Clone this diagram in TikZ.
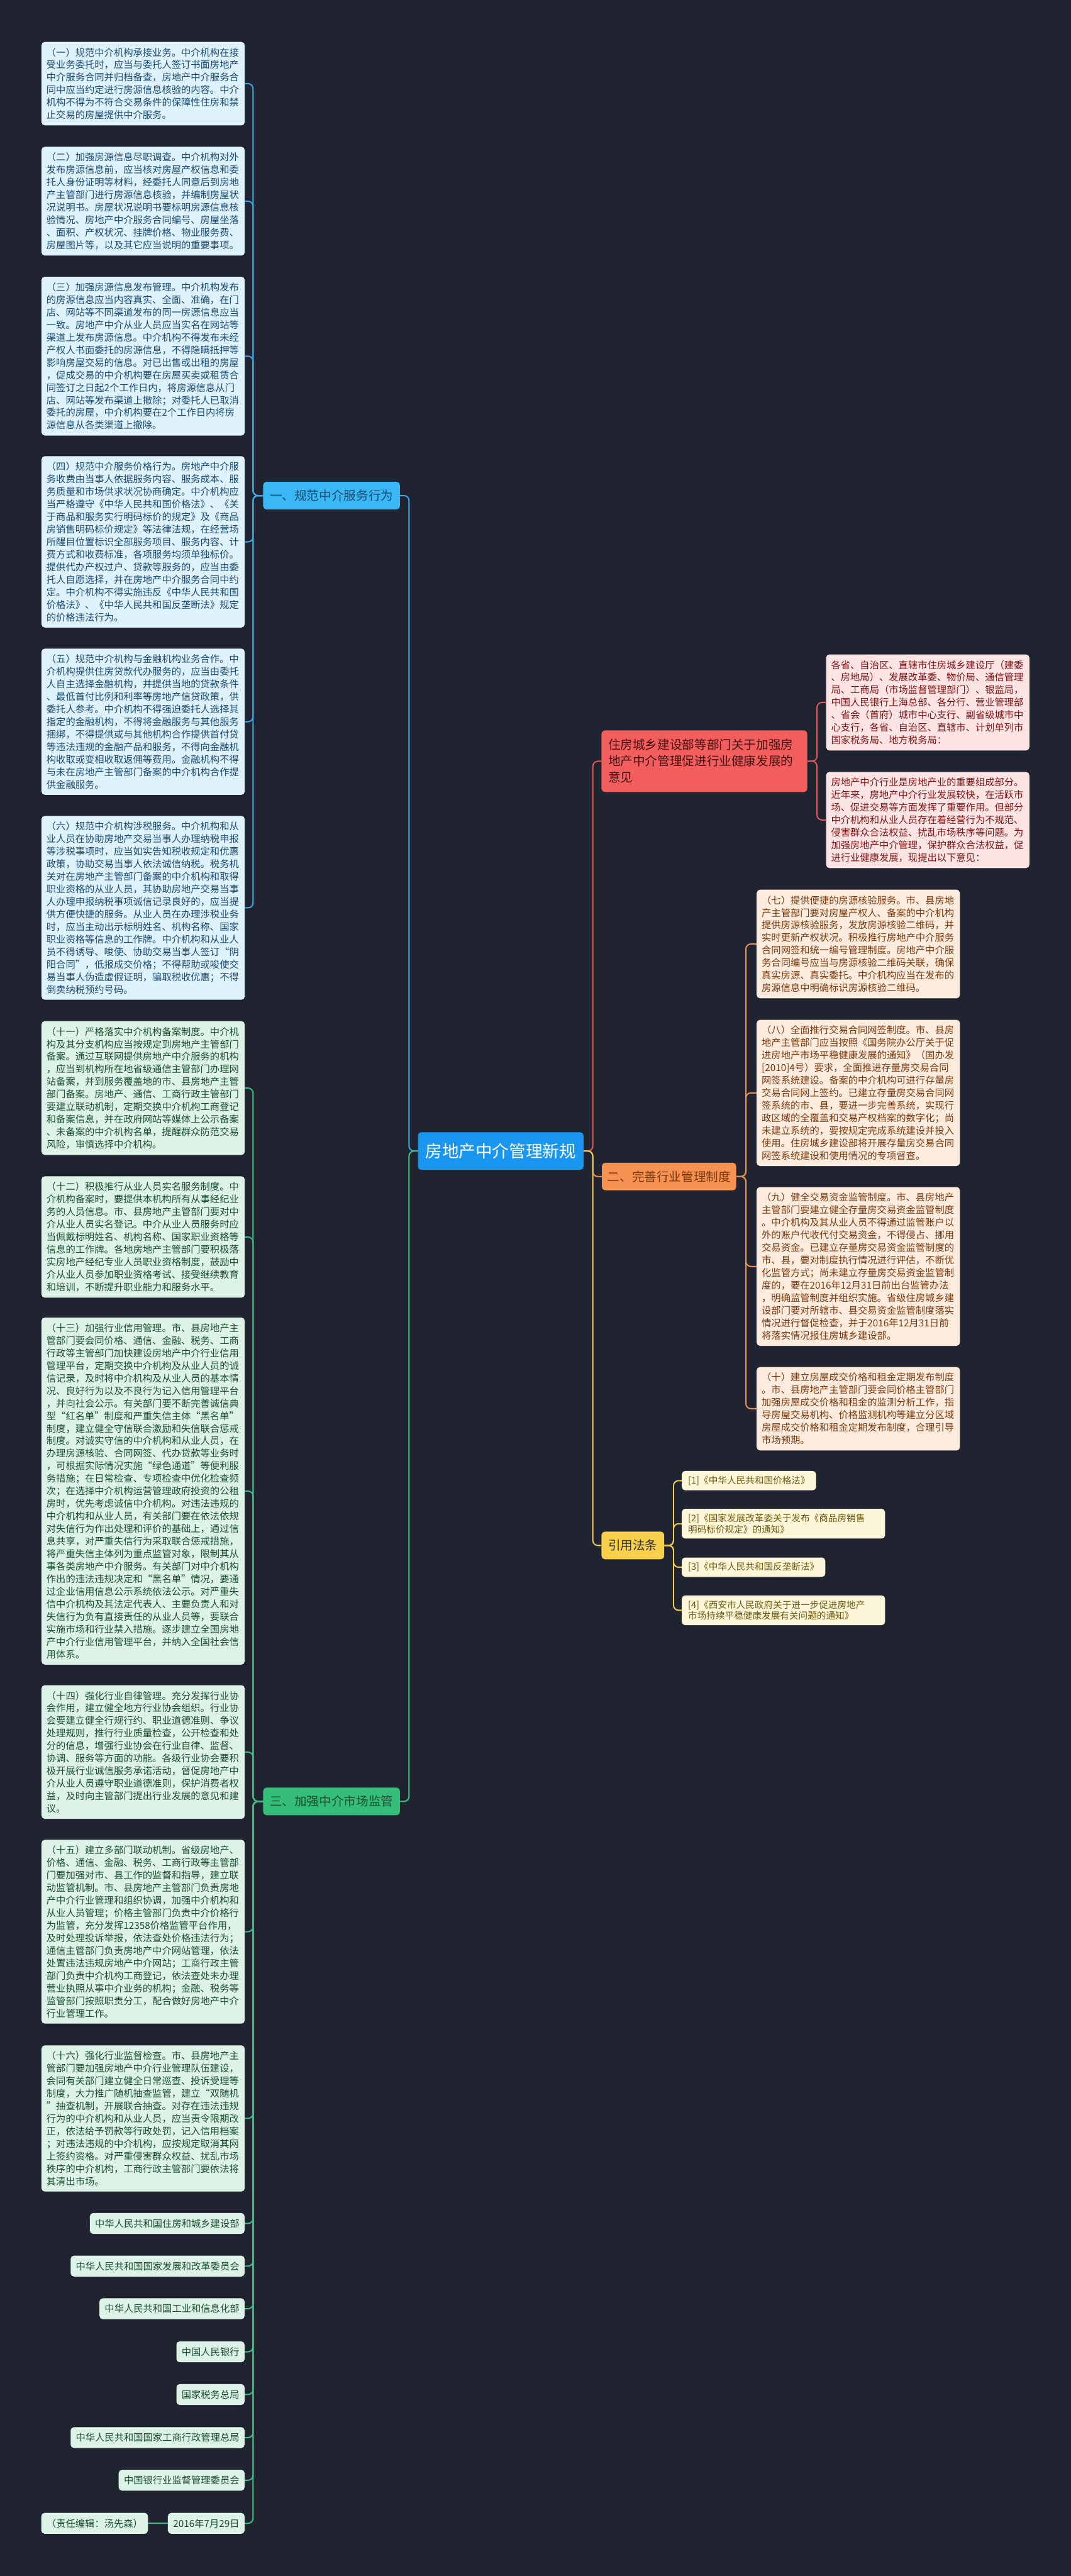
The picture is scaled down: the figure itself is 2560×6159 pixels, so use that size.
\documentclass[tikz,border=0pt]{standalone}
\usepackage{fontspec}
\setmainfont{Noto Sans CJK SC}
\usetikzlibrary{positioning}

\definecolor{bgcol}{RGB}{32,36,48}
\definecolor{bluefill}{RGB}{221,242,251}
\definecolor{bluetext}{RGB}{28,74,112}
\definecolor{bluelinkc}{RGB}{56,170,235}
\definecolor{bluehead}{RGB}{58,184,246}
\definecolor{greenfill}{RGB}{221,243,231}
\definecolor{greentext}{RGB}{28,78,48}
\definecolor{greenlinkc}{RGB}{60,192,128}
\definecolor{greenhead}{RGB}{52,190,122}
\definecolor{mainfill}{RGB}{24,150,240}
\definecolor{redhead}{RGB}{242,94,94}
\definecolor{redtext}{RGB}{70,16,16}
\definecolor{pinkfill}{RGB}{253,228,228}
\definecolor{pinktext}{RGB}{128,20,20}
\definecolor{redlinkc}{RGB}{228,88,88}
\definecolor{orangehead}{RGB}{247,146,82}
\definecolor{orangefill}{RGB}{253,236,222}
\definecolor{orangetext}{RGB}{122,58,14}
\definecolor{orangelinkc}{RGB}{234,146,82}
\definecolor{yellowhead}{RGB}{248,208,76}
\definecolor{yellowfill}{RGB}{253,246,216}
\definecolor{yellowtext}{RGB}{108,88,14}
\definecolor{yellowlinkc}{RGB}{240,204,82}

\begin{document}
\begin{tikzpicture}[x=1pt, y=-1pt,
	para/.style={rectangle, rounded corners=8pt, text width=462pt, align=left,
		inner xsep=12pt, inner ysep=14pt, font=\fontsize{23}{30}\selectfont, anchor=west},
	bluebox/.style={para, fill=bluefill, text=bluetext},
	greenbox/.style={para, fill=greenfill, text=greentext},
	pinkbox/.style={para, fill=pinkfill, text=pinktext},
	orangebox/.style={para, fill=orangefill, text=orangetext},
	orgbox/.style={rectangle, rounded corners=8pt, fill=greenfill, text=greentext, anchor=east,
		inner xsep=12.5pt, inner ysep=0pt, minimum height=50pt, font=\fontsize{23}{30}\selectfont},
	citebox/.style={rectangle, rounded corners=8pt, fill=yellowfill, text=yellowtext, anchor=west,
		align=left, inner xsep=15pt, inner ysep=12pt, font=\fontsize{22}{26.5}\selectfont},
	head/.style={rectangle, rounded corners=8pt, anchor=west, inner xsep=16pt, inner ysep=0pt,
		minimum height=66pt, font=\fontsize{29.5}{39}\selectfont},
	mainnode/.style={rectangle, rounded corners=8pt, fill=mainfill, text=white, anchor=west,
		inner xsep=18pt, minimum height=90pt, font=\fontsize{40}{48}\selectfont},
	link/.style={line width=3pt, rounded corners=12pt},
	bluelink/.style={link, draw=bluelinkc},
	greenlink/.style={link, draw=greenlinkc},
	redlink/.style={link, draw=redlinkc},
	orangelink/.style={link, draw=orangelinkc},
	yellowlink/.style={link, draw=yellowlinkc}
	]
	\useasboundingbox (0,0) rectangle (2560,6159);
	\fill[bgcol] (0,0) rectangle (2560,6159);
	
	% --- centre ---
	\node[mainnode] (main) at (999,2752) {房地产中介管理新规};
	
	% --- Left: 一、规范中介服务行为 ---
	\node[head, fill=bluehead, text=bluetext] (sec1) at (629,1185) {一、规范中介服务行为};
	\node[bluebox] (b1) at (99,200) {（一）规范中介机构承接业务。中介机构在接\\受业务委托时，应当与委托人签订书面房地产\\中介服务合同并归档备查，房地产中介服务合\\同中应当约定进行房源信息核验的内容。中介\\机构不得为不符合交易条件的保障性住房和禁\\止交易的房屋提供中介服务。};
	\node[bluebox] (b2) at (99,481) {（二）加强房源信息尽职调查。中介机构对外\\发布房源信息前，应当核对房屋产权信息和委\\托人身份证明等材料，经委托人同意后到房地\\产主管部门进行房源信息核验，并编制房屋状\\况说明书。房屋状况说明书要标明房源信息核\\验情况、房地产中介服务合同编号、房屋坐落\\、面积、产权状况、挂牌价格、物业服务费、\\房屋图片等，以及其它应当说明的重要事项。};
	\node[bluebox] (b3) at (99,851.5) {（三）加强房源信息发布管理。中介机构发布\\的房源信息应当内容真实、全面、准确，在门\\店、网站等不同渠道发布的同一房源信息应当\\一致。房地产中介从业人员应当实名在网站等\\渠道上发布房源信息。中介机构不得发布未经\\产权人书面委托的房源信息，不得隐瞒抵押等\\影响房屋交易的信息。对已出售或出租的房屋\\，促成交易的中介机构要在房屋买卖或租赁合\\同签订之日起2个工作日内，将房源信息从门\\店、网站等发布渠道上撤除；对委托人已取消\\委托的房屋，中介机构要在2个工作日内将房\\源信息从各类渠道上撤除。};
	\node[bluebox] (b4) at (99,1295.5) {（四）规范中介服务价格行为。房地产中介服\\务收费由当事人依据服务内容、服务成本、服\\务质量和市场供求状况协商确定。中介机构应\\当严格遵守《中华人民共和国价格法》、《关\\于商品和服务实行明码标价的规定》及《商品\\房销售明码标价规定》等法律法规，在经营场\\所醒目位置标识全部服务项目、服务内容、计\\费方式和收费标准，各项服务均须单独标价。\\提供代办产权过户、贷款等服务的，应当由委\\托人自愿选择，并在房地产中介服务合同中约\\定。中介机构不得实施违反《中华人民共和国\\价格法》、《中华人民共和国反垄断法》规定\\的价格违法行为。};
	\node[bluebox] (b5) at (99,1725.5) {（五）规范中介机构与金融机构业务合作。中\\介机构提供住房贷款代办服务的，应当由委托\\人自主选择金融机构，并提供当地的贷款条件\\、最低首付比例和利率等房地产信贷政策，供\\委托人参考。中介机构不得强迫委托人选择其\\指定的金融机构，不得将金融服务与其他服务\\捆绑，不得提供或与其他机构合作提供首付贷\\等违法违规的金融产品和服务，不得向金融机\\构收取或变相收取返佣等费用。金融机构不得\\与未在房地产主管部门备案的中介机构合作提\\供金融服务。};
	\node[bluebox] (b6) at (99,2170.5) {（六）规范中介机构涉税服务。中介机构和从\\业人员在协助房地产交易当事人办理纳税申报\\等涉税事项时，应当如实告知税收规定和优惠\\政策，协助交易当事人依法诚信纳税。税务机\\关对在房地产主管部门备案的中介机构和取得\\职业资格的从业人员，其协助房地产交易当事\\人办理申报纳税事项诚信记录良好的，应当提\\供方便快捷的服务。从业人员在办理涉税业务\\时，应当主动出示标明姓名、机构名称、国家\\职业资格等信息的工作牌。中介机构和从业人\\员不得诱导、唆使、协助交易当事人签订“阴\\阳合同”，低报成交价格；不得帮助或唆使交\\易当事人伪造虚假证明，骗取税收优惠；不得\\倒卖纳税预约号码。};
	\draw[bluelink] (main.west) -- ++(-21,0) |- (sec1.east);
	\foreach \k in {b1,b2,b3,b4,b5,b6}
		\draw[bluelink] (sec1.west) -- ++(-24,0) |- (\k.east);
	
	% --- Left: 三、加强中介市场监管 ---
	\node[head, fill=greenhead, text=greentext] (sec3) at (629,4307) {三、加强中介市场监管};
	\node[greenbox] (g11) at (99,2601.5) {（十一）严格落实中介机构备案制度。中介机\\构及其分支机构应当按规定到房地产主管部门\\备案。通过互联网提供房地产中介服务的机构\\，应当到机构所在地省级通信主管部门办理网\\站备案，并到服务覆盖地的市、县房地产主管\\部门备案。房地产、通信、工商行政主管部门\\要建立联动机制，定期交换中介机构工商登记\\和备案信息，并在政府网站等媒体上公示备案\\、未备案的中介机构名单，提醒群众防范交易\\风险，审慎选择中介机构。};
	\node[greenbox] (g12) at (99,2957.5) {（十二）积极推行从业人员实名服务制度。中\\介机构备案时，要提供本机构所有从事经纪业\\务的人员信息。市、县房地产主管部门要对中\\介从业人员实名登记。中介从业人员服务时应\\当佩戴标明姓名、机构名称、国家职业资格等\\信息的工作牌。各地房地产主管部门要积极落\\实房地产经纪专业人员职业资格制度，鼓励中\\介从业人员参加职业资格考试、接受继续教育\\和培训，不断提升职业能力和服务水平。};
	\node[greenbox] (g13) at (99,3565) {（十三）加强行业信用管理。市、县房地产主\\管部门要会同价格、通信、金融、税务、工商\\行政等主管部门加快建设房地产中介行业信用\\管理平台，定期交换中介机构及从业人员的诚\\信记录，及时将中介机构及从业人员的基本情\\况、良好行为以及不良行为记入信用管理平台\\，并向社会公示。有关部门要不断完善诚信典\\型“红名单”制度和严重失信主体“黑名单”\\制度，建立健全守信联合激励和失信联合惩戒\\制度。对诚实守信的中介机构和从业人员，在\\办理房源核验、合同网签、代办贷款等业务时\\，可根据实际情况实施“绿色通道”等便利服\\务措施；在日常检查、专项检查中优化检查频\\次；在选择中介机构运营管理政府投资的公租\\房时，优先考虑诚信中介机构。对违法违规的\\中介机构和从业人员，有关部门要在依法依规\\对失信行为作出处理和评价的基础上，通过信\\息共享，对严重失信行为采取联合惩戒措施，\\将严重失信主体列为重点监管对象，限制其从\\事各类房地产中介服务。有关部门对中介机构\\作出的违法违规决定和“黑名单”情况，要通\\过企业信用信息公示系统依法公示。对严重失\\信中介机构及其法定代表人、主要负责人和对\\失信行为负有直接责任的从业人员等，要联合\\实施市场和行业禁入措施。逐步建立全国房地\\产中介行业信用管理平台，并纳入全国社会信\\用体系。};
	\node[greenbox] (g14) at (99,4189) {（十四）强化行业自律管理。充分发挥行业协\\会作用，建立健全地方行业协会组织。行业协\\会要建立健全行规行约、职业道德准则、争议\\处理规则，推行行业质量检查，公开检查和处\\分的信息，增强行业协会在行业自律、监督、\\协调、服务等方面的功能。各级行业协会要积\\极开展行业诚信服务承诺活动，督促房地产中\\介从业人员遵守职业道德准则，保护消费者权\\益，及时向主管部门提出行业发展的意见和建\\议。};
	\node[greenbox] (g15) at (99,4618.5) {（十五）建立多部门联动机制。省级房地产、\\价格、通信、金融、税务、工商行政等主管部\\门要加强对市、县工作的监督和指导，建立联\\动监管机制。市、县房地产主管部门负责房地\\产中介行业管理和组织协调，加强中介机构和\\从业人员管理；价格主管部门负责中介价格行\\为监管，充分发挥12358价格监管平台作用，\\及时处理投诉举报，依法查处价格违法行为；\\通信主管部门负责房地产中介网站管理，依法\\处置违法违规房地产中介网站；工商行政主管\\部门负责中介机构工商登记，依法查处未办理\\营业执照从事中介业务的机构；金融、税务等\\监管部门按照职责分工，配合做好房地产中介\\行业管理工作。};
	\node[greenbox] (g16) at (99,5065) {（十六）强化行业监督检查。市、县房地产主\\管部门要加强房地产中介行业管理队伍建设，\\会同有关部门建立健全日常巡查、投诉受理等\\制度，大力推广随机抽查监管，建立“双随机\\”抽查机制，开展联合抽查。对存在违法违规\\行为的中介机构和从业人员，应当责令限期改\\正，依法给予罚款等行政处罚，记入信用档案\\；对违法违规的中介机构，应按规定取消其网\\上签约资格。对严重侵害群众权益、扰乱市场\\秩序的中介机构，工商行政主管部门要依法将\\其清出市场。};
	\node[orgbox] (org1) at (585,5316) {中华人民共和国住房和城乡建设部};
	\node[orgbox] (org2) at (585,5418) {中华人民共和国国家发展和改革委员会};
	\node[orgbox] (org3) at (585,5520) {中华人民共和国工业和信息化部};
	\node[orgbox] (org4) at (585,5623) {中国人民银行};
	\node[orgbox] (org5) at (585,5725) {国家税务总局};
	\node[orgbox] (org6) at (585,5828) {中华人民共和国国家工商行政管理总局};
	\node[orgbox] (org7) at (585,5930) {中国银行业监督管理委员会};
	\node[orgbox] (date) at (585,6033) {2016年7月29日};
	\node[orgbox] (editor) at (354,6033) {（责任编辑：汤先森）};
	\draw[greenlink] (main.west) -- ++(-21,0) |- (sec3.east);
	\foreach \k in {g11,g12,g13,g14,g15,g16,org1,org2,org3,org4,org5,org6,org7,date}
		\draw[greenlink] (sec3.west) -- ++(-24,0) |- (\k.east);
	\draw[greenlink] (date.west) -- (editor.east);
	
	% --- Right: 意见 ---
	\node[head, fill=redhead, text=redtext, text width=460pt, align=left, inner ysep=21pt] (opinion) at (1438,1820) {住房城乡建设部等部门关于加强房\\地产中介管理促进行业健康发展的\\意见};
	\node[pinkbox] (p1) at (1975,1679.5) {各省、自治区、直辖市住房城乡建设厅（建委\\、房地局）、发展改革委、物价局、通信管理\\局、工商局（市场监督管理部门）、银监局，\\中国人民银行上海总部、各分行、营业管理部\\、省会（首府）城市中心支行、副省级城市中\\心支行，各省、自治区、直辖市、计划单列市\\国家税务局、地方税务局：};
	\node[pinkbox] (p2) at (1975,1960.5) {房地产中介行业是房地产业的重要组成部分。\\近年来，房地产中介行业发展较快，在活跃市\\场、促进交易等方面发挥了重要作用。但部分\\中介机构和从业人员存在着经营行为不规范、\\侵害群众合法权益、扰乱市场秩序等问题。为\\加强房地产中介管理，保护群众合法权益，促\\进行业健康发展，现提出以下意见：};
	\draw[redlink] (main.east) -- ++(22,0) |- (opinion.west);
	\foreach \k in {p1,p2}
		\draw[redlink] (opinion.east) -- ++(23,0) |- (\k.west);
	
	% --- Right: 二、完善行业管理制度 ---
	\node[head, fill=orangehead, text=orangetext, inner xsep=13pt] (sec2) at (1439,2813) {二、完善行业管理制度};
	\node[orangebox] (o7) at (1809,2257) {（七）提供便捷的房源核验服务。市、县房地\\产主管部门要对房屋产权人、备案的中介机构\\提供房源核验服务，发放房源核验二维码，并\\实时更新产权状况。积极推行房地产中介服务\\合同网签和统一编号管理制度。房地产中介服\\务合同编号应当与房源核验二维码关联，确保\\真实房源、真实委托。中介机构应当在发布的\\房源信息中明确标识房源核验二维码。};
	\node[orangebox] (o8) at (1809,2613) {（八）全面推行交易合同网签制度。市、县房\\地产主管部门应当按照《国务院办公厅关于促\\进房地产市场平稳健康发展的通知》（国办发\\{}[2010]4号）要求，全面推进存量房交易合同\\网签系统建设。备案的中介机构可进行存量房\\交易合同网上签约。已建立存量房交易合同网\\签系统的市、县，要进一步完善系统，实现行\\政区域的全覆盖和交易产权档案的数字化；尚\\未建立系统的，要按规定完成系统建设并投入\\使用。住房城乡建设部将开展存量房交易合同\\网签系统建设和使用情况的专项督查。};
	\node[orangebox] (o9) at (1809,3028) {（九）健全交易资金监管制度。市、县房地产\\主管部门要建立健全存量房交易资金监管制度\\。中介机构及其从业人员不得通过监管账户以\\外的账户代收代付交易资金，不得侵占、挪用\\交易资金。已建立存量房交易资金监管制度的\\市、县，要对制度执行情况进行评估，不断优\\化监管方式；尚未建立存量房交易资金监管制\\度的，要在2016年12月31日前出台监管办法\\，明确监管制度并组织实施。省级住房城乡建\\设部门要对所辖市、县交易资金监管制度落实\\情况进行督促检查，并于2016年12月31日前\\将落实情况报住房城乡建设部。};
	\node[orangebox] (o10) at (1809,3368) {（十）建立房屋成交价格和租金定期发布制度\\。市、县房地产主管部门要会同价格主管部门\\加强房屋成交价格和租金的监测分析工作，指\\导房屋交易机构、价格监测机构等建立分区域\\房屋成交价格和租金定期发布制度，合理引导\\市场预期。};
	\draw[orangelink] (main.east) -- ++(22,0) |- (sec2.west);
	\foreach \k in {o7,o8,o9,o10}
		\draw[orangelink] (sec2.east) -- ++(23,0) |- (\k.west);
	
	% --- Right: 引用法条 ---
	\node[head, fill=yellowhead, text=black!80] (cite) at (1438,3695) {引用法条};
	\node[citebox] (c1) at (1630,3540) {[1]《中华人民共和国价格法》};
	\node[citebox, text width=456pt] (c2) at (1630,3643) {[2]《国家发展改革委关于发布《商品房销售\\明码标价规定》的通知》};
	\node[citebox] (c3) at (1630,3747) {[3]《中华人民共和国反垄断法》};
	\node[citebox, text width=456pt] (c4) at (1630,3850) {[4]《西安市人民政府关于进一步促进房地产\\市场持续平稳健康发展有关问题的通知》};
	\draw[yellowlink] (main.east) -- ++(22,0) |- (cite.west);
	\foreach \k in {c1,c2,c3,c4}
		\draw[yellowlink] (cite.east) -- ++(22,0) |- (\k.west);
\end{tikzpicture}
\end{document}
